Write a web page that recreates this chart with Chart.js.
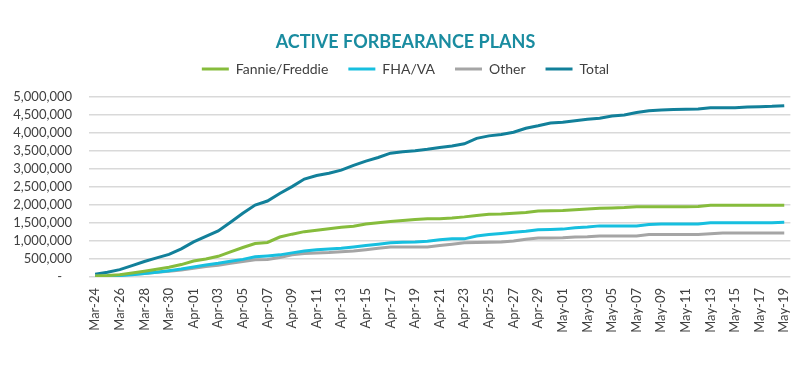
<!DOCTYPE html>
<html>
<head>
<meta charset="utf-8">
<script src="https://cdn.jsdelivr.net/npm/chart.js@4.4.1/dist/chart.umd.min.js"></script>
<style>
    body { margin: 0; background: #fff; }
    #wrap { width: 811px; height: 368px; }
</style>
</head>
<body>
<div id="wrap"><canvas id="chart" width="811" height="368"></canvas></div>
<script>
const days = [
    'Mar-24','Mar-25','Mar-26','Mar-27','Mar-28','Mar-29','Mar-30','Mar-31',
    'Apr-01','Apr-02','Apr-03','Apr-04','Apr-05','Apr-06','Apr-07','Apr-08','Apr-09','Apr-10',
    'Apr-11','Apr-12','Apr-13','Apr-14','Apr-15','Apr-16','Apr-17','Apr-18','Apr-19','Apr-20',
    'Apr-21','Apr-22','Apr-23','Apr-24','Apr-25','Apr-26','Apr-27','Apr-28','Apr-29','Apr-30',
    'May-01','May-02','May-03','May-04','May-05','May-06','May-07','May-08','May-09','May-10',
    'May-11','May-12','May-13','May-14','May-15','May-16','May-17','May-18','May-19'
]

const fannieFreddie = [
    30000, 40000, 65000, 110000, 160000, 215000, 270000, 345000, 445000, 500000,
    575000, 700000, 820000, 930000, 960000, 1110000, 1190000, 1260000, 1300000, 1340000,
    1380000, 1410000, 1470000, 1510000, 1540000, 1570000, 1600000, 1620000, 1620000, 1640000,
    1670000, 1710000, 1740000, 1750000, 1770000, 1790000, 1830000, 1840000, 1850000, 1870000,
    1890000, 1910000, 1920000, 1930000, 1950000, 1950000, 1950000, 1950000, 1950000, 1960000,
    1990000, 1990000, 1990000, 1990000, 1990000, 1990000, 1990000
]

const fhaVa = [
    20000, 25000, 40000, 65000, 95000, 130000, 175000, 220000, 280000, 335000,
    380000, 437000, 490000, 560000, 585000, 615000, 670000, 725000, 760000, 780000,
    800000, 836000, 875000, 910000, 950000, 965000, 975000, 995000, 1035000, 1060000,
    1060000, 1140000, 1180000, 1210000, 1240000, 1270000, 1310000, 1320000, 1330000, 1370000,
    1390000, 1420000, 1420000, 1420000, 1420000, 1460000, 1470000, 1470000, 1470000, 1470000,
    1510000, 1510000, 1510000, 1510000, 1510000, 1510000, 1520000
]

const other = [
    20000, 30000, 50000, 75000, 100000, 130000, 160000, 195000, 240000, 290000,
    325000, 380000, 430000, 480000, 485000, 540000, 615000, 650000, 670000, 680000,
    700000, 725000, 760000, 800000, 836000, 836000, 836000, 836000, 875000, 910000,
    950000, 960000, 965000, 975000, 1000000, 1050000, 1080000, 1080000, 1090000, 1110000,
    1120000, 1140000, 1140000, 1140000, 1140000, 1180000, 1180000, 1180000, 1180000, 1180000,
    1200000, 1220000, 1220000, 1220000, 1220000, 1220000, 1220000
]

const total = [
    75000, 130000, 205000, 316000, 430000, 530000, 630000, 780000, 975000, 1130000,
    1280000, 1520000, 1770000, 2000000, 2110000, 2320000, 2510000, 2720000, 2820000, 2880000,
    2970000, 3100000, 3220000, 3320000, 3440000, 3480000, 3510000, 3550000, 3600000, 3640000,
    3700000, 3850000, 3920000, 3960000, 4020000, 4130000, 4200000, 4280000, 4300000, 4340000,
    4380000, 4410000, 4470000, 4500000, 4570000, 4620000, 4640000, 4650000, 4660000, 4670000,
    4700000, 4700000, 4700000, 4720000, 4730000, 4740000, 4760000
]

const font = 'Lato, "Open Sans", sans-serif'

function line(label, data, color, width) {
    return {
        label: label,
        data: data,
        borderColor: color,
        backgroundColor: color,
        borderWidth: width,
        pointRadius: 0,
        tension: 0
    }
}

// leaves a gap under the legend, as in the reference
const legendGap = {
    id: 'legendGap',
    afterInit(chart) {
        const fit = chart.legend.fit
        chart.legend.fit = function() {
            fit.call(this)
            this.height += 11
        }
    }
}

new Chart(document.getElementById('chart'), {
    type: 'line',
    data: {
        labels: days,
        datasets: [
            line('Fannie/Freddie', fannieFreddie, '#86BC3C', 3),
            line('FHA/VA', fhaVa, '#17BFDF', 3),
            line('Other', other, '#A5A5A5', 3),
            line('Total', total, '#12809A', 3)
        ]
    },
    plugins: [legendGap],
    options: {
        responsive: false,
        devicePixelRatio: 1,
        animation: false,
        layout: { padding: { left: 0, right: 0, top: 0, bottom: 22 } },
        plugins: {
            title: {
                display: true,
                text: 'ACTIVE FORBEARANCE PLANS',
                color: '#1A8CA0',
                font: { family: font, size: 18, weight: 'bold', lineHeight: 1 },
                padding: { top: 33, bottom: -9 }
            },
            legend: {
                labels: {
                    color: '#404040',
                    font: { family: font, size: 14 },
                    boxWidth: 27,
                    boxHeight: 3,
                    padding: 20,
                    generateLabels(chart) {
                        const items = Chart.defaults.plugins.legend.labels.generateLabels(chart)
                        items.forEach(it => { it.lineWidth = 0 })
                        return items
                    }
                }
            },
            tooltip: { enabled: false }
        },
        scales: {
            x: {
                offset: true,
                grid: { display: false, drawTicks: false },
                border: { display: false },
                ticks: {
                    autoSkip: false,
                    minRotation: 90,
                    maxRotation: 90,
                    padding: 11,
                    color: '#404040',
                    font: { family: font, size: 13 },
                    callback(value, i) { return i % 2 == 0 ? days[i] : '' }
                },
                afterFit(scale) { scale.height = 69 }
            },
            y: {
                min: 0,
                max: 5000000,
                grid: { color: '#D9D9D9', lineWidth: 1.5, drawTicks: false },
                border: { display: false },
                ticks: {
                    stepSize: 500000,
                    autoSkip: false,
                    padding: 17,
                    color: '#404040',
                    font: { family: font, size: 13 },
                    callback(value) { return value == 0 ? '-   ' : value.toLocaleString('en-US') }
                },
                afterFit(scale) { scale.width = 89 }
            },
            // empty right-hand gutter so the plot stops where the reference does
            yRight: {
                position: 'right',
                grid: { display: false, drawTicks: false },
                border: { display: false },
                ticks: { display: false },
                afterFit(scale) { scale.width = 17 }
            }
        }
    }
})
</script>
</body>
</html>
